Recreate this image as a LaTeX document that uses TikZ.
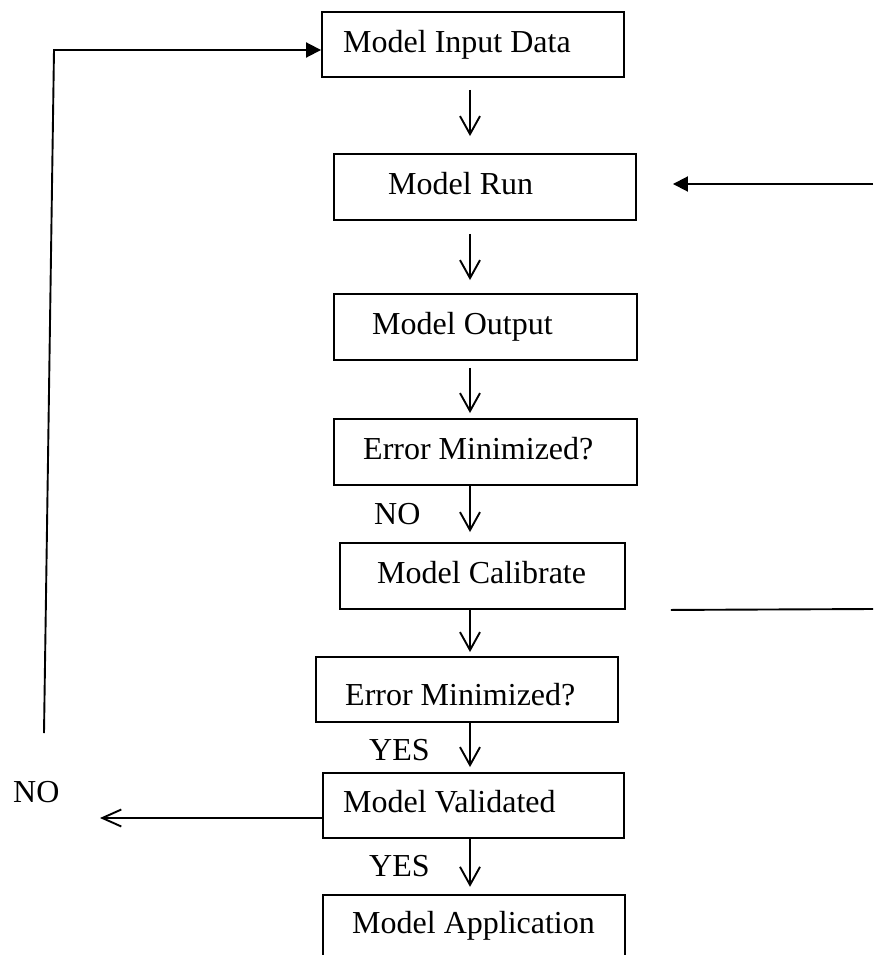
\documentclass[tikz,border=0pt]{standalone}
\usepackage{fontspec}
\setmainfont{Liberation Serif}
\usetikzlibrary{arrows.meta}
\begin{document}
\begin{tikzpicture}[x=1pt,y=-1pt,
  boxnode/.style={draw,line width=1.9pt,rectangle,inner sep=0pt},
  lbl/.style={anchor=base west,inner sep=0pt,font=\fontsize{32}{38}\selectfont},
  varrow/.style={line width=1.9pt,-{Straight Barb[length=18pt,width=20pt,line width=1.9pt]}},
  larrow/.style={line width=1.9pt,-{Straight Barb[length=19pt,width=17pt,line width=1.9pt]}},
  farrow/.style={line width=1.9pt,-{Triangle[length=15pt,width=15pt]}},
  plainline/.style={line width=1.9pt}]
\useasboundingbox (0,0) rectangle (873,955);

% boxes
\node[boxnode,minimum width=302pt,minimum height=65pt] (in)  at (473,44.5) {};
\node[boxnode,minimum width=302pt,minimum height=66pt] (run) at (485,187) {};
\node[boxnode,minimum width=303pt,minimum height=66pt] (out) at (485.5,327) {};
\node[boxnode,minimum width=303pt,minimum height=66pt] (em1) at (485.5,452) {};
\node[boxnode,minimum width=285pt,minimum height=66pt] (cal) at (482.5,576) {};
\node[boxnode,minimum width=302pt,minimum height=65pt] (em2) at (467,689.5) {};
\node[boxnode,minimum width=301pt,minimum height=65pt] (val) at (473.5,805.5) {};
\node[draw=none,rectangle,inner sep=0pt,minimum width=302pt,minimum height=60pt] (app) at (474,925) {};
\coordinate (bot) at (0,955);
\draw[plainline] (app.west |- bot) -- (app.north west) -- (app.north east) -- (app.east |- bot);

% box texts
\node[lbl] (tin)  at (343,53)  {Model Input Data};
\node[lbl] (trun) at (388,194) {Model Run};
\node[lbl] (tout) at (372,334) {Model Output};
\node[lbl] (tem1) at (363,459) {Error Minimized?};
\node[lbl] (tcal) at (377,583) {Model Calibrate};
\node[lbl] (tem2) at (345,705) {Error Minimized?};
\node[lbl] (tval) at (343,812) {Model Validated};
\node[lbl] (tapp) at (352,933) {Model Application};

% side labels
\node[lbl] (no1)  at (374,524) {NO};
\node[lbl] (yes1) at (369,760) {YES};
\node[lbl] (yes2) at (369,876) {YES};
\node[lbl] (no2)  at (13,802)  {NO};

% vertical arrows
\coordinate (ax) at (470,0);
\draw[varrow,shorten <=12pt,shorten >=17pt] (in.south -| ax) -- (run.north -| ax);
\draw[varrow,shorten <=13pt,shorten >=13pt] (run.south -| ax) -- (out.north -| ax);
\draw[varrow,shorten <=7pt,shorten >=5pt] (out.south -| ax) -- (em1.north -| ax);
\draw[varrow,shorten >=10pt] (em1.south -| ax) -- (cal.north -| ax);
\draw[varrow,shorten >=4pt] (cal.south -| ax) -- (em2.north -| ax);
\draw[varrow,shorten >=5pt] (em2.south -| ax) -- (val.north -| ax);
\draw[varrow,shorten >=8pt] (val.south -| ax) -- (app.north -| ax);

% feedback loop on the left
\coordinate (lb) at (44,733);
\coordinate (lt) at (54,50);
\draw[farrow] (lb) -- (lt) -- (lt -| in.west);

% left NO arrow
\coordinate (lno) at (100,818);
\draw[larrow] (val.west |- lno) -- (lno);

% right side
\coordinate (rr) at (873,184);
\draw[farrow,shorten >=36pt] (rr) -- (rr -| run.east);
\coordinate (cr) at (873,609);
\draw[plainline] (cr) -- ([xshift=45pt]cal.south east);
\end{tikzpicture}
\end{document}
